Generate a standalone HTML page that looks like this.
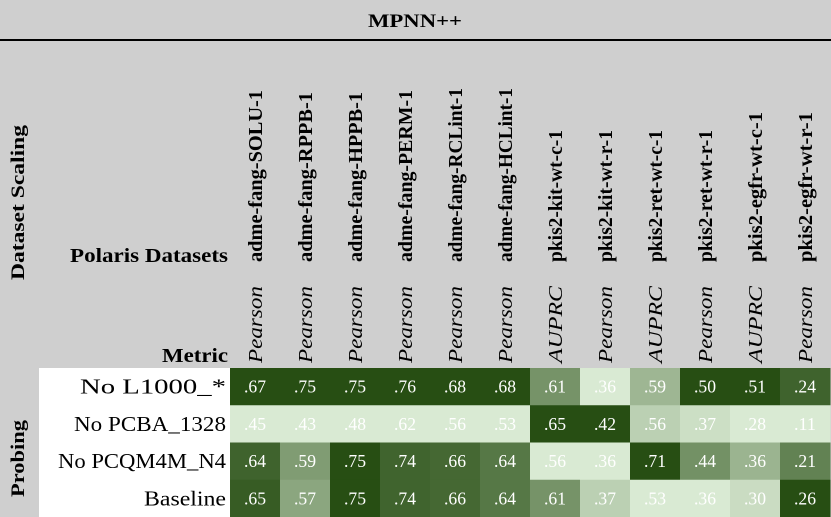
<!DOCTYPE html>
<html><head><meta charset="utf-8"><style>
body{margin:0;background:#cfcfcf;}
#wrap{position:relative;width:831px;height:517px;overflow:hidden;background:#cfcfcf;}
</style></head><body>
<div id="wrap">
<div style="position:absolute;left:0;top:39px;width:831px;height:2px;background:#000;"></div>
<div style="position:absolute;left:39px;top:368px;width:191px;height:149px;background:#fff;"></div>
<svg id="hm" width="831" height="517" style="position:absolute;left:0;top:0;" font-family="Liberation Serif, Times New Roman, serif">
<text x="368" y="27" font-weight="bold" font-size="19" textLength="94" lengthAdjust="spacingAndGlyphs">MPNN++</text>
<text transform="translate(24,280) rotate(-90)" font-weight="bold" font-size="19" textLength="155" lengthAdjust="spacingAndGlyphs">Dataset Scaling</text>
<text transform="translate(24,497) rotate(-90)" font-weight="bold" font-size="19" textLength="77" lengthAdjust="spacingAndGlyphs">Probing</text>
<text x="70" y="262" font-weight="bold" font-size="20" textLength="158" lengthAdjust="spacingAndGlyphs">Polaris Datasets</text>
<text x="162" y="362" font-weight="bold" font-size="20" textLength="66" lengthAdjust="spacingAndGlyphs">Metric</text>
</svg>
</div>
<script>
const datasets=["adme-fang-SOLU-1","adme-fang-RPPB-1","adme-fang-HPPB-1","adme-fang-PERM-1","adme-fang-RCLint-1","adme-fang-HCLint-1","pkis2-kit-wt-c-1","pkis2-kit-wt-r-1","pkis2-ret-wt-c-1","pkis2-ret-wt-r-1","pkis2-egfr-wt-c-1","pkis2-egfr-wt-r-1"];
const metrics=["Pearson","Pearson","Pearson","Pearson","Pearson","Pearson","AUPRC","Pearson","AUPRC","Pearson","AUPRC","Pearson"];
const rows=["No L1000_*","No PCBA_1328","No PCQM4M_N4","Baseline"];
const rowL1000=[.67,.75,.75,.76,.68,.68,.61,.36,.59,.50,.51,.24];
const rowPCBA=[.45,.43,.48,.62,.56,.53,.65,.42,.56,.37,.28,.11];
const rowPCQM=[.64,.59,.75,.74,.66,.64,.56,.36,.71,.44,.36,.21];
const rowBase=[.65,.57,.75,.74,.66,.64,.61,.37,.53,.36,.30,.26];
const values=[rowL1000,rowPCBA,rowPCQM,rowBase];
const X0=230,CW=50,Y0=368,RH=37.25;
const xPos=i=>X0+i*CW, yPos=r=>Y0+r*RH;
const light=[217,234,211],dark=[39,78,19];
function col(t){return 'rgb('+light.map((c,k)=>Math.round(c+(dark[k]-c)*t)).join(',')+')';}
const svg=document.getElementById('hm');const NS='http://www.w3.org/2000/svg';
function fmt(v){return v.toFixed(2).replace(/^0/,'');}
function approxLen(s,per){return s.length*per;}
const labelLen={"adme-fang-SOLU-1":172,"adme-fang-RPPB-1":170,"adme-fang-HPPB-1":170,"adme-fang-PERM-1":172,"adme-fang-RCLint-1":174,"adme-fang-HCLint-1":174,"pkis2-kit-wt-c-1":132,"pkis2-kit-wt-r-1":132,"pkis2-ret-wt-c-1":132,"pkis2-ret-wt-r-1":132,"pkis2-egfr-wt-c-1":150,"pkis2-egfr-wt-r-1":150};
const rowLen={"No L1000_*":146,"No PCBA_1328":152,"No PCQM4M_N4":168,"Baseline":82};
datasets.forEach((d,i)=>{
  const colVals=values.map(r=>r[i]);const mn=Math.min(...colVals),mx=Math.max(...colVals);
  const cx=xPos(i)+CW/2;
  const t=document.createElementNS(NS,'text');
  
  
  t.setAttribute('transform','translate('+(cx+7)+',262) rotate(-90)');
  t.setAttribute('font-weight','bold');t.setAttribute('font-size','20');
  t.setAttribute('textLength',labelLen[d]||150);t.setAttribute('lengthAdjust','spacingAndGlyphs');
  t.textContent=d;svg.appendChild(t);
  const m=document.createElementNS(NS,'text');
  
  
  m.setAttribute('transform','translate('+(cx+7)+',363) rotate(-90)');
  m.setAttribute('font-style','italic');m.setAttribute('font-size','20');
  m.setAttribute('textLength','77');m.setAttribute('lengthAdjust','spacingAndGlyphs');
  m.textContent=metrics[i];svg.appendChild(m);
  values.forEach((row,r)=>{
    const v=row[i];const tn=mx>mn?(v-mn)/(mx-mn):0.5;
    const rc=document.createElementNS(NS,'rect');
    
    
    rc.setAttribute('x',xPos(i));rc.setAttribute('y',yPos(r));rc.setAttribute('width',CW+0.5);rc.setAttribute('height',RH+0.5);
    rc.setAttribute('fill',col(tn));svg.appendChild(rc);
    const tx=document.createElementNS(NS,'text');
    
    
    tx.setAttribute('x',cx);tx.setAttribute('y',yPos(r)+RH/2+6);tx.setAttribute('text-anchor','middle');
    tx.setAttribute('fill','#fff');tx.setAttribute('font-size','18');
    tx.setAttribute('textLength','22');tx.setAttribute('lengthAdjust','spacingAndGlyphs');
    tx.textContent=fmt(v);svg.appendChild(tx);
  });
});
rows.forEach((n,r)=>{
  const t=document.createElementNS(NS,'text');
  
  
  t.setAttribute('x',226);t.setAttribute('y',yPos(r)+RH/2+7);t.setAttribute('text-anchor','end');
  t.setAttribute('font-size','21');
  t.setAttribute('textLength',rowLen[n]);t.setAttribute('lengthAdjust','spacingAndGlyphs');
  t.textContent=n;svg.appendChild(t);
});
</script>
</body></html>
